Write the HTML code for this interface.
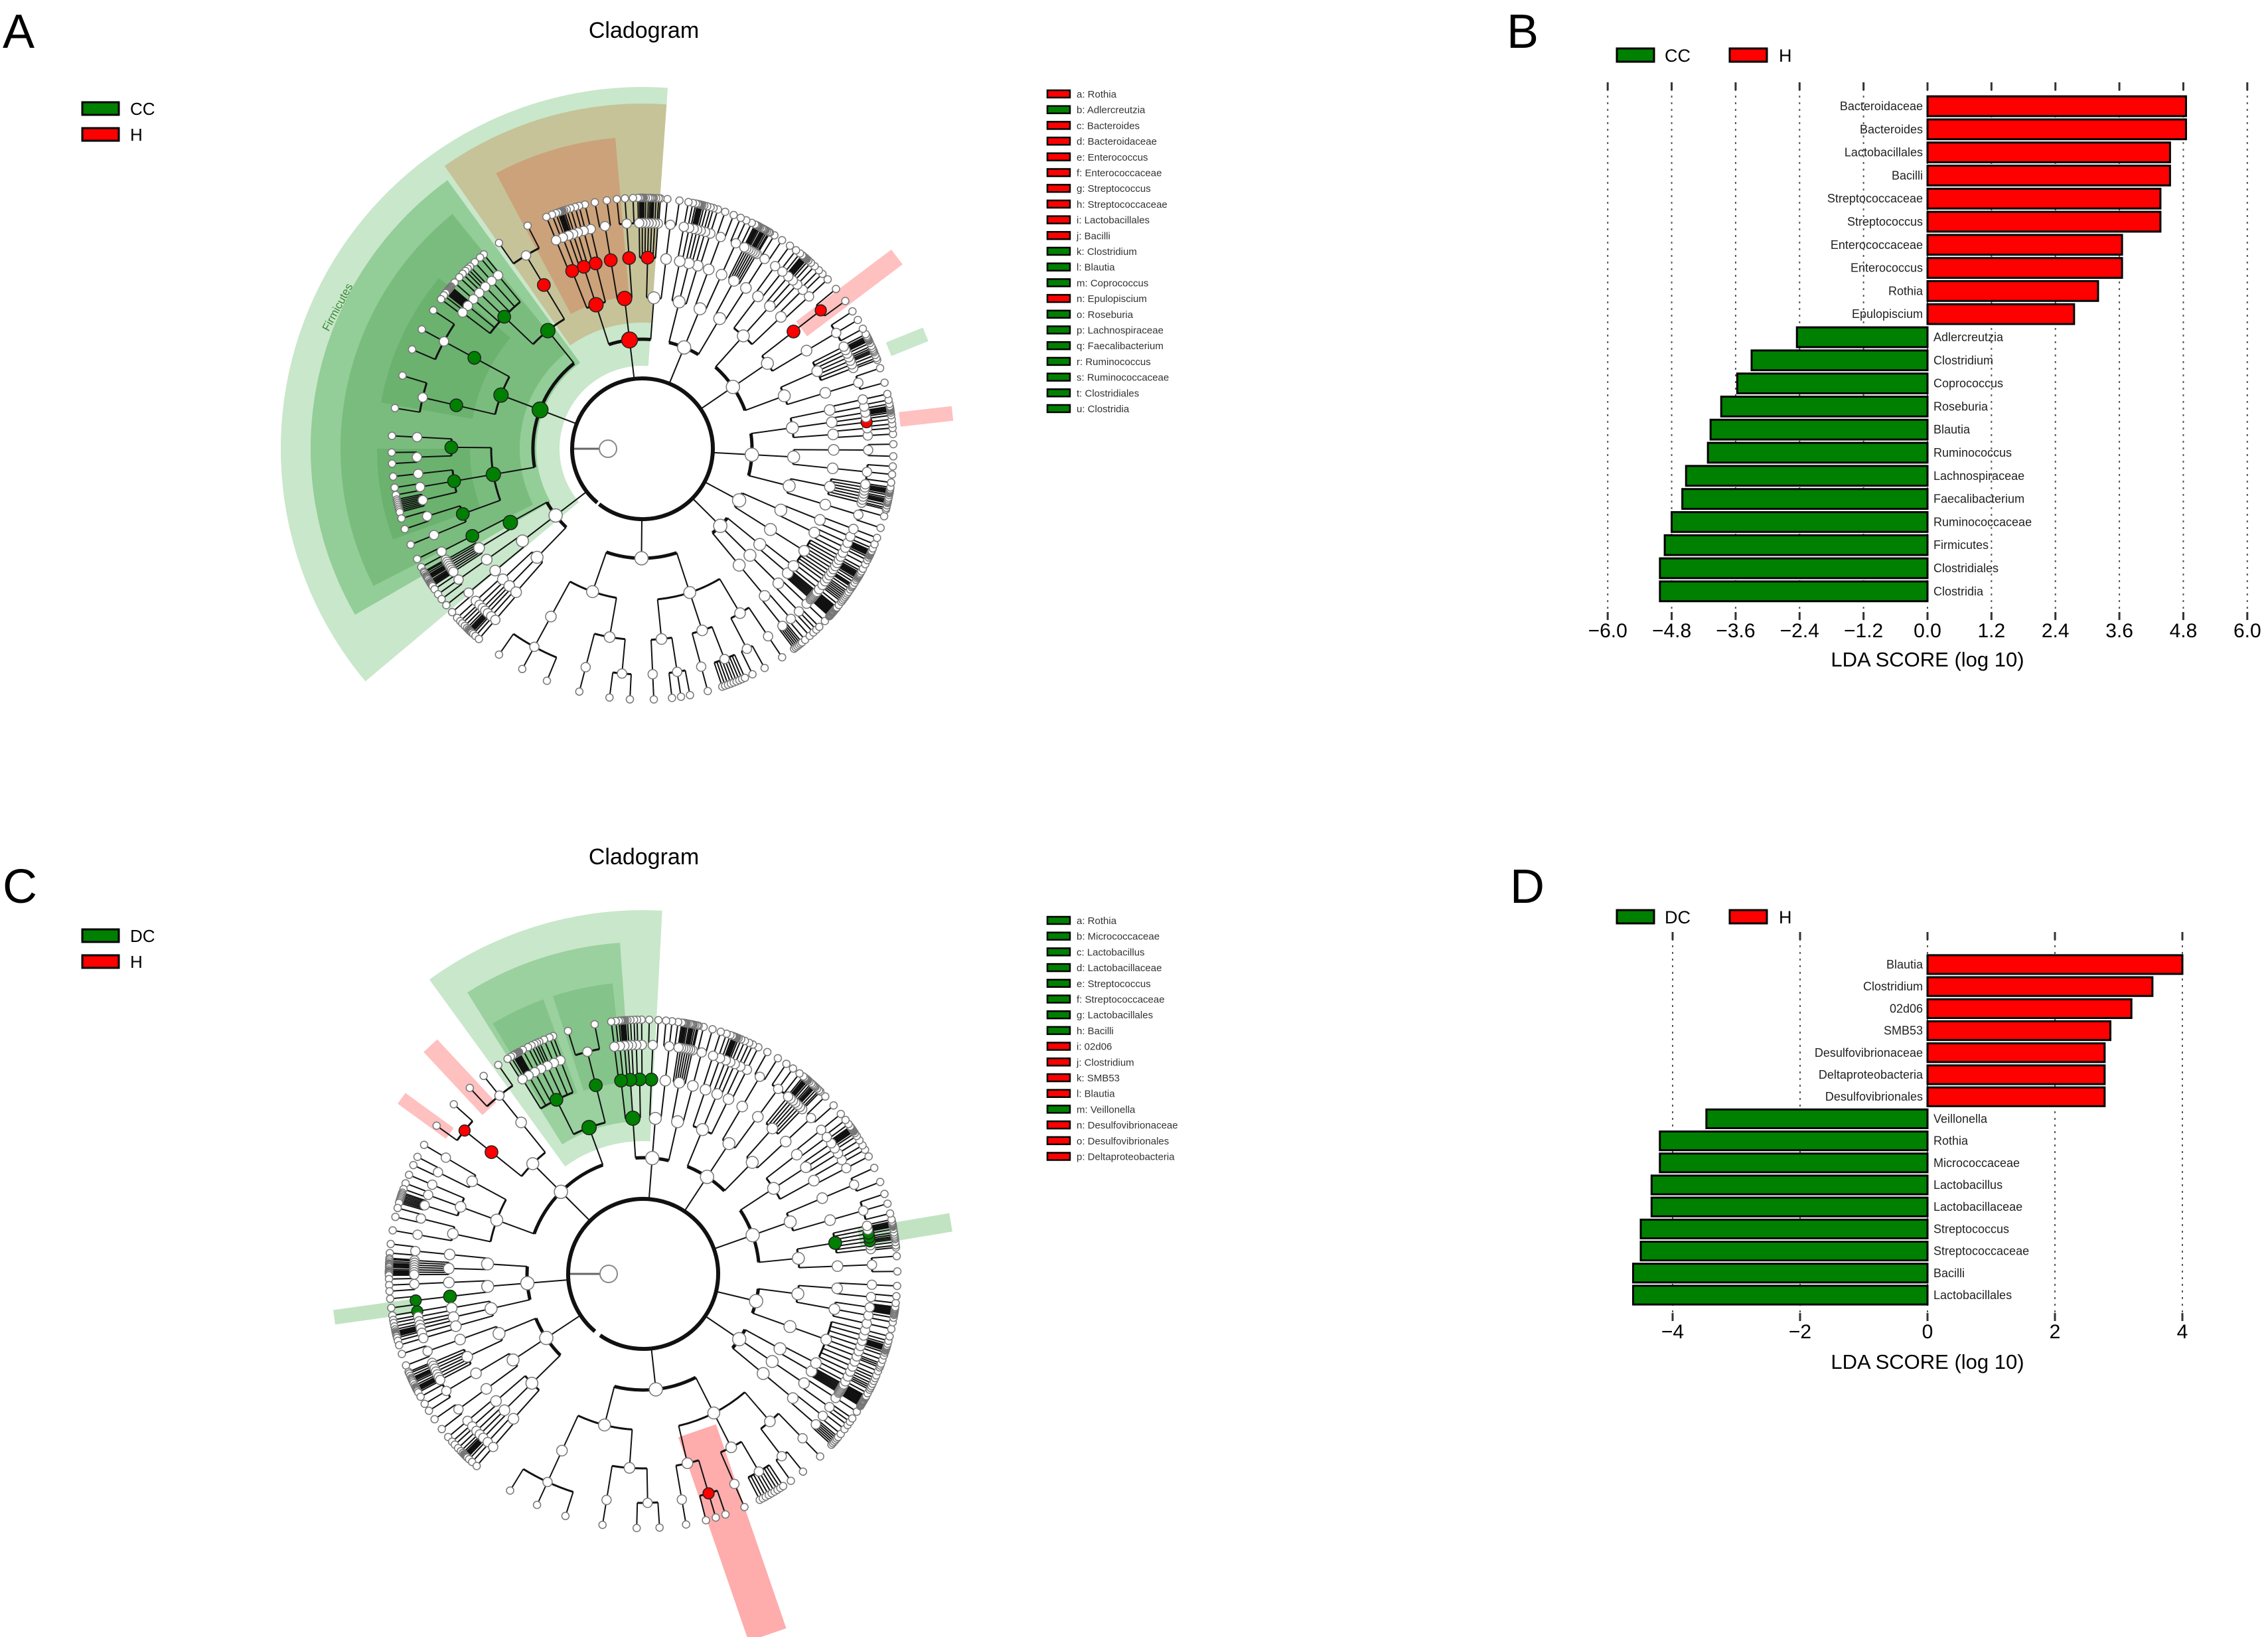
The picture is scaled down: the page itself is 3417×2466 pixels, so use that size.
<!DOCTYPE html>
<html><head><meta charset="utf-8">
<style>
html,body{margin:0;padding:0;background:#fff;}
svg{display:block;font-family:"Liberation Sans",sans-serif;}
</style></head>
<body>
<svg id="fig" width="3417" height="2466" viewBox="0 0 3417 2466" xmlns="http://www.w3.org/2000/svg">
  <rect width="3417" height="2466" fill="#fff"/>
  <text x="4" y="72" font-size="72">A</text>
  <text x="2270" y="72" font-size="72">B</text>
  <text x="4" y="1360" font-size="72">C</text>
  <text x="2275" y="1360" font-size="72">D</text>
  <text x="970" y="57" font-size="34" text-anchor="middle">Cladogram</text>
  <text x="970" y="1302" font-size="34" text-anchor="middle">Cladogram</text>
  <g>
    <rect x="124" y="154" width="55" height="19" fill="#008000" stroke="#000" stroke-width="3"/>
    <text x="196" y="173" font-size="26">CC</text>
    <rect x="124" y="193" width="55" height="19" fill="#ff0000" stroke="#000" stroke-width="3"/>
    <text x="196" y="212" font-size="26">H</text>
  </g>
  <g>
    <rect x="124" y="1400" width="55" height="19" fill="#008000" stroke="#000" stroke-width="3"/>
    <text x="196" y="1419" font-size="26">DC</text>
    <rect x="124" y="1439" width="55" height="19" fill="#ff0000" stroke="#000" stroke-width="3"/>
    <text x="196" y="1458" font-size="26">H</text>
  </g>
  <g id="cladeA"></g>
  <g id="cladeC"></g>
  <g id="legA"></g>
  <g id="legC"></g>
  <g id="barB"></g>
  <g id="barD"></g>
</svg>
<script>
const NS='http://www.w3.org/2000/svg';
function mk(tag,attrs,parent){const e=document.createElementNS(NS,tag);for(const k in attrs)e.setAttribute(k,attrs[k]);parent.appendChild(e);return e;}

/* ---------- Bar chart data ---------- */
const catsB=['Bacteroidaceae','Bacteroides','Lactobacillales','Bacilli','Streptococcaceae','Streptococcus','Enterococcaceae','Enterococcus','Rothia','Epulopiscium','Adlercreutzia','Clostridium','Coprococcus','Roseburia','Blautia','Ruminococcus','Lachnospiraceae','Faecalibacterium','Ruminococcaceae','Firmicutes','Clostridiales','Clostridia'];
const valsB=[4.85,4.85,4.55,4.55,4.37,4.37,3.65,3.65,3.2,2.75,-2.45,-3.3,-3.57,-3.87,-4.07,-4.12,-4.53,-4.6,-4.8,-4.93,-5.02,-5.02];
const ticksB=[-6.0,-4.8,-3.6,-2.4,-1.2,0.0,1.2,2.4,3.6,4.8,6.0];
const tickLabelsB=['\u22126.0','\u22124.8','\u22123.6','\u22122.4','\u22121.2','0.0','1.2','2.4','3.6','4.8','6.0'];
const groupsB=['CC','H'];

const catsD=['Blautia','Clostridium','02d06','SMB53','Desulfovibrionaceae','Deltaproteobacteria','Desulfovibrionales','Veillonella','Rothia','Micrococcaceae','Lactobacillus','Lactobacillaceae','Streptococcus','Streptococcaceae','Bacilli','Lactobacillales'];
const valsD=[4.0,3.53,3.2,2.87,2.78,2.78,2.78,-3.47,-4.2,-4.2,-4.33,-4.33,-4.5,-4.5,-4.62,-4.62];
const ticksD=[-4,-2,0,2,4];
const tickLabelsD=['\u22124','\u22122','0','2','4'];
const groupsD=['DC','H'];

function barChart(g,cats,vals,ticks,tlabels,groups,cfg){
  const xs=v=>cfg.x0+v*cfg.unit;
  const ys=i=>cfg.yFirst+i*cfg.pitch;
  const lg=mk('g',{},g);
  
  
  mk('rect',{x:2436,y:cfg.legY-10,width:56,height:20,fill:'#008000',stroke:'#000','stroke-width':3},lg);
  const t1=mk('text',{x:2508,y:cfg.legY+10,'font-size':27},lg);t1.textContent=groups[0];
  mk('rect',{x:2606,y:cfg.legY-10,width:56,height:20,fill:'#ff0000',stroke:'#000','stroke-width':3},lg);
  const t2=mk('text',{x:2680,y:cfg.legY+10,'font-size':27},lg);t2.textContent=groups[1];
  ticks.forEach((t,i)=>{
    const x=xs(t);
    const gl=mk('line',{x1:x,y1:cfg.gTop,x2:x,y2:cfg.gBot,stroke:'#555','stroke-width':2,'stroke-dasharray':'3,7'},g);
    
    
    mk('line',{x1:x,y1:cfg.gTop,x2:x,y2:cfg.gTop+12,stroke:'#333','stroke-width':3},g);
    mk('line',{x1:x,y1:cfg.gBot-12,x2:x,y2:cfg.gBot,stroke:'#333','stroke-width':3},g);
    const tl=mk('text',{x:x,y:cfg.tickY,'font-size':30,'text-anchor':'middle'},g);
    tl.textContent=tlabels[i];
    
    
  });
  const xl=mk('text',{x:xs(0),y:cfg.xlY,'font-size':31,'text-anchor':'middle'},g);
  xl.textContent='LDA SCORE (log 10)';
  
  
  cats.forEach((c,i)=>{
    const v=vals[i],y=ys(i),h=cfg.pitch-5;
    const x0=Math.min(xs(0),xs(v)),w=Math.abs(xs(v)-xs(0));
    const r=mk('rect',{x:x0,y:y-h/2,width:w,height:h,fill:v>0?'#ff0000':'#008000',stroke:'#000','stroke-width':3},g);
    
    
    const lab=mk('text',{x:v>0?xs(0)-7:xs(0)+9,y:y+6,'font-size':18,'text-anchor':v>0?'end':'start',fill:'#222'},g);
    lab.textContent=c;
    
    
  });
}
barChart(document.getElementById('barB'),catsB,valsB,ticksB,tickLabelsB,groupsB,
  {x0:2904,unit:80.3,yFirst:160,pitch:34.8,gTop:124,gBot:934,tickY:960,xlY:1004,legY:83});
barChart(document.getElementById('barD'),catsD,valsD,ticksD,tickLabelsD,groupsD,
  {x0:2904,unit:96,yFirst:1453,pitch:33.2,gTop:1404,gBot:1990,tickY:2016,xlY:2062,legY:1381});

/* ---------- cladogram legends ---------- */
const legAColors=['r','g','r','r','r','r','r','r','r','r','g','g','g','r','g','g','g','g','g','g','g'];
const legALabels=['a: Rothia','b: Adlercreutzia','c: Bacteroides','d: Bacteroidaceae','e: Enterococcus','f: Enterococcaceae','g: Streptococcus','h: Streptococcaceae','i: Lactobacillales','j: Bacilli','k: Clostridium','l: Blautia','m: Coprococcus','n: Epulopiscium','o: Roseburia','p: Lachnospiraceae','q: Faecalibacterium','r: Ruminococcus','s: Ruminococcaceae','t: Clostridiales','u: Clostridia'];
const legCColors=['g','g','g','g','g','g','g','g','r','r','r','r','g','r','r','r'];
const legCLabels=['a: Rothia','b: Micrococcaceae','c: Lactobacillus','d: Lactobacillaceae','e: Streptococcus','f: Streptococcaceae','g: Lactobacillales','h: Bacilli','i: 02d06','j: Clostridium','k: SMB53','l: Blautia','m: Veillonella','n: Desulfovibrionaceae','o: Desulfovibrionales','p: Deltaproteobacteria'];
function legend(g,cols,labs,y0){
  labs.forEach((l,i)=>{
    const y=y0+i*23.7;
    const r=mk('rect',{x:1578,y:y-6,width:34,height:11,fill:cols[i]=='r'?'#ff0000':'#008000',stroke:'#000','stroke-width':2.5},g);
    
    
    const t=mk('text',{x:1622,y:y+5,'font-size':15,fill:'#333'},g);
    t.textContent=l;
    
    
  });
}
legend(document.getElementById('legA'),legAColors,legALabels,142);
legend(document.getElementById('legC'),legCColors,legCLabels,1387);

/* ---------- cladograms ---------- */
const rad=a=>a*Math.PI/180;
function P(cx,cy,r,a){return [cx+r*Math.cos(rad(a)),cy-r*Math.sin(rad(a))];}
function sector(g,cx,cy,r0,r1,a0,a1,fill,op,name){
  const p1=P(cx,cy,r1,a0),p2=P(cx,cy,r1,a1),p3=P(cx,cy,r0,a1),p4=P(cx,cy,r0,a0);
  const lg=(a1-a0)>180?1:0;
  const d=`M${p1}A${r1},${r1} 0 ${lg} 0 ${p2}L${p3}A${r0},${r0} 0 ${lg} 1 ${p4}Z`;
  const e=mk('path',{d:d,fill:fill,'fill-opacity':op},g);
  
  
}
function strip(g,cx,cy,r0,r1,a,w,fill,op,name){
  const c=Math.cos(rad(a)),s=-Math.sin(rad(a)),nx=-s,ny=c;
  const pts=[[cx+r0*c+nx*w/2,cy+r0*s+ny*w/2],[cx+r1*c+nx*w/2,cy+r1*s+ny*w/2],[cx+r1*c-nx*w/2,cy+r1*s-ny*w/2],[cx+r0*c-nx*w/2,cy+r0*s-ny*w/2]];
  const e=mk('polygon',{points:pts.map(p=>p.join(',')).join(' '),fill:fill,'fill-opacity':op},g);
  
  
}
const SEQ=[2,2,1,3,2,1,2,7,2,1,3,2,1,9,2,2,1,3,1,2,6,2,1,2,3,1,2,8];
function tree(g,cx,cy,rootX,a0,a1,phyla,R,hl){
  let idx=0;
  const lines=mk('g',{stroke:'#111',fill:'none'},g);
  const nodes=mk('g',{},g);
  const sizes=[11,10,9,8,7,5.5];
  mk('line',{x1:rootX,y1:cy,x2:cx-R[0],y2:cy,stroke:'#666','stroke-width':3},lines);
  const rn=mk('circle',{cx:rootX,cy:cy,r:13,fill:'#fff',stroke:'#888','stroke-width':2},nodes);
  
  
  mk('path',{d:`M${P(cx,cy,R[0],a1)}A${R[0]},${R[0]} 0 1 1 ${P(cx,cy,R[0],a0)}`,'stroke-width':6},lines);
  function colorOf(a,d){for(const h of hl){if(a>=h[0]&&a<=h[1]&&d>=h[2]&&d<=h[4])return h[3];}return '#fff';}
  function node(b0,b1,d){
    const m=(b0+b1)/2;
    if(d<R.length-1){
      let k=SEQ[idx++%SEQ.length];
      if(d<3&&k>4)k=3;
      const step=(b1-b0)/k;const mids=[];
      for(let i=0;i<k;i++){mids.push(b0+step*(i+0.5));}
      if(k>1){const aa=mids[0],bb=mids[k-1];const r=R[d];
        mk('path',{d:`M${P(cx,cy,r,aa)}A${r},${r} 0 0 0 ${P(cx,cy,r,bb)}`,'stroke-width':d<2?5:3},lines);}
      for(let i=0;i<k;i++){
        const p=P(cx,cy,R[d],mids[i]),q=P(cx,cy,R[d+1],mids[i]);
        mk('line',{x1:p[0],y1:p[1],x2:q[0],y2:q[1],'stroke-width':2},lines);
        node(b0+step*i,b0+step*(i+1),d+1);
      }
    }
    const p=P(cx,cy,R[d],m);
    const col=colorOf(m,d);
    const c=mk('circle',{cx:p[0],cy:p[1],r:sizes[d]*(col=='#fff'?1:1.2),fill:col,stroke:col=='#fff'?'#777':'#222','stroke-width':1.5},nodes);
    
    
  }
  const tot=phyla.reduce((s,x)=>s+x,0);let cur=a0;
  phyla.forEach(w=>{const e=cur+(a1-a0)*w/tot;const m=(cur+e)/2;
    const q=P(cx,cy,R[1],m),p=P(cx,cy,R[0],m);
    mk('line',{x1:p[0],y1:p[1],x2:q[0],y2:q[1],'stroke-width':2},lines);
    node(cur,e,1);cur=e;});
}

(function(){
  const g=document.getElementById('cladeA');
  
  
  const cx=968,cy=676;
  sector(g,cx,cy,125,545,86,220,'#4caf50',0.3,'sector-firmicutes');
  sector(g,cx,cy,190,520,86,125,'#c08040',0.35,'sector-bacilli');
  sector(g,cx,cy,230,470,95,118,'#e04020',0.25,'sector-lactobacillales');
  sector(g,cx,cy,160,500,126,210,'#2e9e3a',0.35,'sector-clostridia');
  sector(g,cx,cy,185,455,129,207,'#2e8b34',0.25,'sector-clostridiales');
  sector(g,cx,cy,260,400,140,170,'#2e8b34',0.2,'sector-lachnospiraceae');
  sector(g,cx,cy,260,400,180,200,'#2e8b34',0.2,'sector-ruminococcaceae');
  strip(g,cx,cy,300,480,37,28,'#ff3030',0.3,'strip-rothia');
  strip(g,cx,cy,400,460,22,22,'#4caf50',0.3,'strip-adlercreutzia');
  strip(g,cx,cy,390,470,6.5,22,'#ff3030',0.3,'strip-enterococcus');
  const t=mk('text',{x:0,y:0,'font-size':17,fill:'#3a8a3a',transform:`translate(495,500) rotate(-62)`},g);
  t.textContent='Firmicutes';
  
  
  tree(g,cx,cy,916,-128,230,[9,2,2,4,5,3,4,11,3],[106,165,228,288,340,378],
    [[86,125,1,'#ff0000',3],[126,210,1,'#008000',3],[35,39,3,'#ff0000',4],[5.5,7.5,3,'#ff0000',4]]);
})();
(function(){
  const g=document.getElementById('cladeC');
  
  
  const cx=969,cy=1919;
  sector(g,cx,cy,200,548,87,126,'#4caf50',0.3,'sector-bacilli');
  sector(g,cx,cy,230,500,94,122,'#2e9e3a',0.3,'sector-lactobacillales');
  sector(g,cx,cy,290,440,96,108,'#2e8b34',0.2,'sector-lactobacillaceae');
  sector(g,cx,cy,290,440,110,121,'#2e8b34',0.2,'sector-streptococcaceae');
  strip(g,cx,cy,250,575,-71,60,'#ff3030',0.4,'strip-deltaproteobacteria');
  strip(g,cx,cy,330,470,9.5,28,'#4caf50',0.35,'strip-micrococcaceae');
  strip(g,cx,cy,350,470,188,22,'#4caf50',0.35,'strip-veillonella');
  strip(g,cx,cy,360,450,144,20,'#ff3030',0.3,'strip-blautia');
  strip(g,cx,cy,340,470,133,28,'#ff3030',0.3,'strip-clostridium');
  tree(g,cx,cy,917,-125,230,[10,2,3,5,4,3,9,3,4],[113,175,235,293,345,383],
    [[87,126,1,'#008000',3],[-74,-68,2,'#ff0000',4],[8,11,3,'#008000',4],[186,190,3,'#008000',4],[131,146,3,'#ff0000',4]]);
})();
</script>
</body></html>
